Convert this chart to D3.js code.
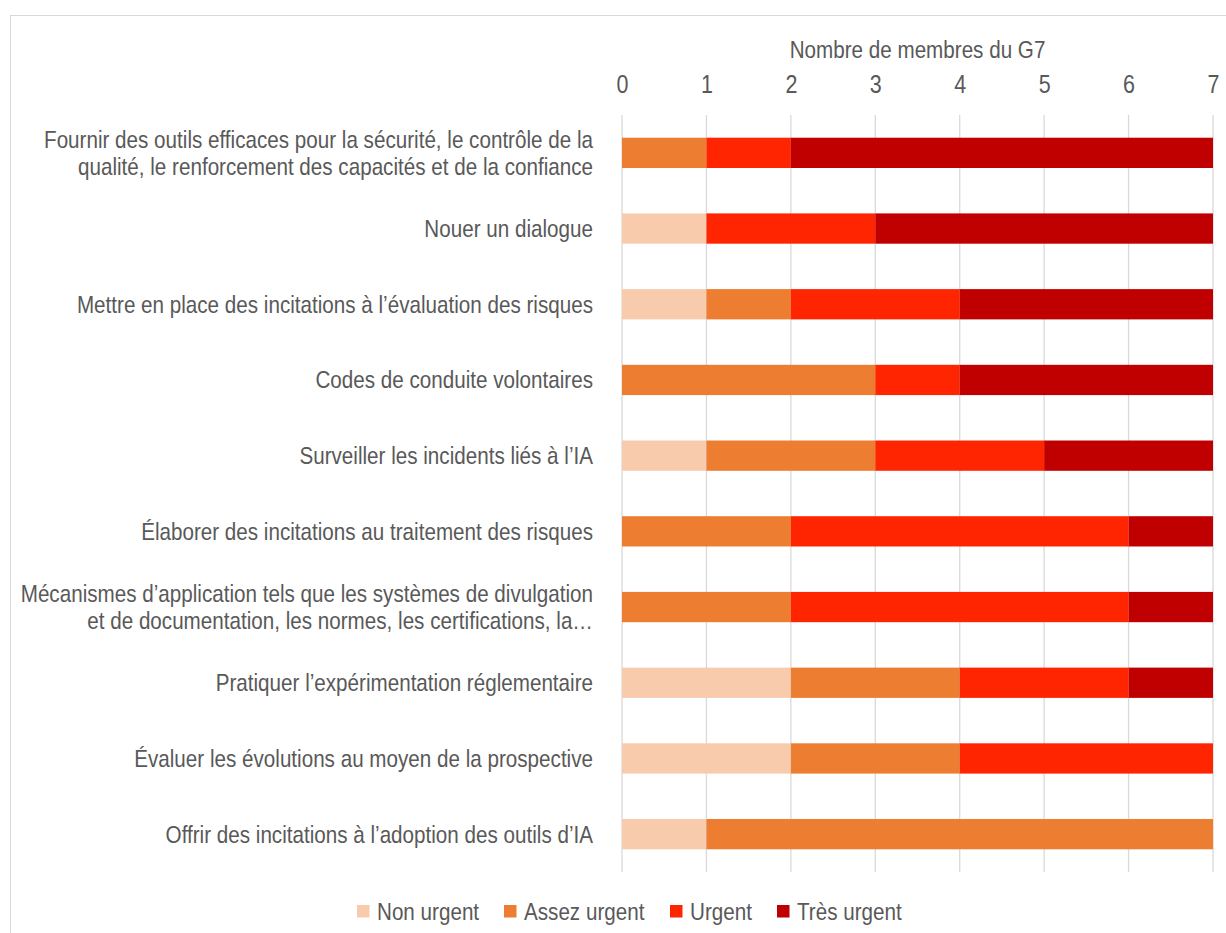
<!DOCTYPE html>
<html>
<head>
<meta charset="utf-8">
<script src="https://cdn.jsdelivr.net/npm/d3@7"></script>
<style>
  body { margin: 0; background: #fff; }
  svg { font-family: "Liberation Sans", Arial, sans-serif; }
</style>
</head>
<body>
<svg id="chart"></svg>
<script>
// categories (top to bottom)
const categories = [
    ["Fournir des outils efficaces pour la sécurité, le contrôle de la", "qualité, le renforcement des capacités et de la confiance"],
    ["Nouer un dialogue"],
    ["Mettre en place des incitations à l’évaluation  des risques"],
    ["Codes de conduite volontaires"],
    ["Surveiller les incidents liés à l’IA"],
    ["Élaborer des incitations au traitement des risques"],
    ["Mécanismes d’application tels que les systèmes de divulgation", "et de documentation, les normes, les certifications, la…"],
    ["Pratiquer l’expérimentation réglementaire"],
    ["Évaluer les évolutions au moyen de la prospective"],
    ["Offrir des incitations à l’adoption des outils d’IA"]
];
const series = ["Non urgent", "Assez urgent", "Urgent", "Très urgent"];
const nonUrgent    = [0, 1, 1, 0, 1, 0, 0, 2, 2, 1];
const assezUrgent  = [1, 0, 1, 3, 2, 2, 2, 2, 2, 6];
const urgent       = [1, 2, 2, 1, 2, 4, 4, 2, 3, 0];
const tresUrgent   = [5, 4, 3, 3, 2, 1, 1, 1, 0, 0];
const xTicks = [0, 1, 2, 3, 4, 5, 6, 7];
const colors = ["#F8CBAD", "#ED7D31", "#FF2500", "#C00000"];

const width = 1226, height = 933;
const narrow = "scale(0.86,1)";   // no Arial Narrow here, squeeze Liberation Sans instead
const textColor = "#595959";

const svg = d3.select("#chart").attr("width", width).attr("height", height);

// frame
svg.append("rect")
    .attr("x", 10.5).attr("y", 15.5)
    .attr("width", width).attr("height", height)
    .attr("fill", "none").attr("stroke", "#d9d9d9");

const rows = categories.map((c, i) => ({
    key: i, label: c,
    "Non urgent": nonUrgent[i], "Assez urgent": assezUrgent[i],
    "Urgent": urgent[i], "Très urgent": tresUrgent[i]
}));

const x = d3.scaleLinear().domain([0, 7]).range([622, 1213]);
const y = d3.scaleBand().domain(rows.map(d => d.key)).range([115, 872]).paddingInner(0.6).paddingOuter(0.3);
const color = d3.scaleOrdinal().domain(series).range(colors);

// gridlines
svg.append("g")
    .selectAll("line")
    .data(xTicks)
    .join("line")
    .attr("x1", d => x(d)).attr("x2", d => x(d))
    .attr("y1", 115).attr("y2", 872)
    .attr("stroke", "#d9d9d9").attr("stroke-width", 1.3);

// top axis
const axis = svg.append("g")
    .attr("transform", "translate(0, 93)")
    .call(d3.axisTop(x).tickValues(xTicks).tickFormat(d3.format("d")).tickSize(0).tickPadding(0));
axis.select(".domain").remove();
axis.selectAll("text")
    .attr("fill", textColor)
    .attr("font-size", "25px")
    .attr("font-family", null)
    .attr("transform", narrow);

svg.append("text")
    .attr("transform", `translate(${x(3.5)}, 58) ${narrow}`)
    .attr("text-anchor", "middle")
    .attr("fill", textColor)
    .attr("font-size", "24px")
    .text("Nombre de membres du G7");

// bars
const stacked = d3.stack().keys(series)(rows);
svg.append("g")
    .selectAll("g")
    .data(stacked)
    .join("g")
    .attr("fill", d => color(d.key))
    .selectAll("rect")
    .data(d => d.filter(s => s[1] > s[0]))
    .join("rect")
    .attr("x", d => x(d[0]))
    .attr("width", d => x(d[1]) - x(d[0]))
    .attr("y", d => y(d.data.key))
    .attr("height", y.bandwidth());

// category labels
const labels = svg.append("g")
    .selectAll("text")
    .data(rows)
    .join("text")
    .attr("text-anchor", "end")
    .attr("fill", textColor)
    .attr("font-size", "24px")
    .attr("transform", d => `translate(593, ${y(d.key) + y.bandwidth() / 2}) ${narrow}`);
labels.selectAll("tspan")
    .data(d => d.label.map((t, i) => ({ t, i, n: d.label.length })))
    .join("tspan")
    .attr("x", 0)
    .attr("dy", d => d.i === 0 ? (0.35 - (d.n - 1) * 0.5625) + "em" : "1.125em")
    .text(d => d.t);

// legend
const legendX = [357, 504, 670, 777];
const legend = svg.append("g")
    .selectAll("g")
    .data(series)
    .join("g")
    .attr("transform", (d, i) => `translate(${legendX[i]}, 911.5)`);
legend.append("rect")
    .attr("x", 0).attr("y", -6.5)
    .attr("width", 12.5).attr("height", 12.5)
    .attr("fill", d => color(d));
legend.append("text")
    .attr("transform", `translate(20, 0) ${narrow}`)
    .attr("dy", "0.35em")
    .attr("fill", textColor)
    .attr("font-size", "24px")
    .text(d => d);
</script>
</body>
</html>
